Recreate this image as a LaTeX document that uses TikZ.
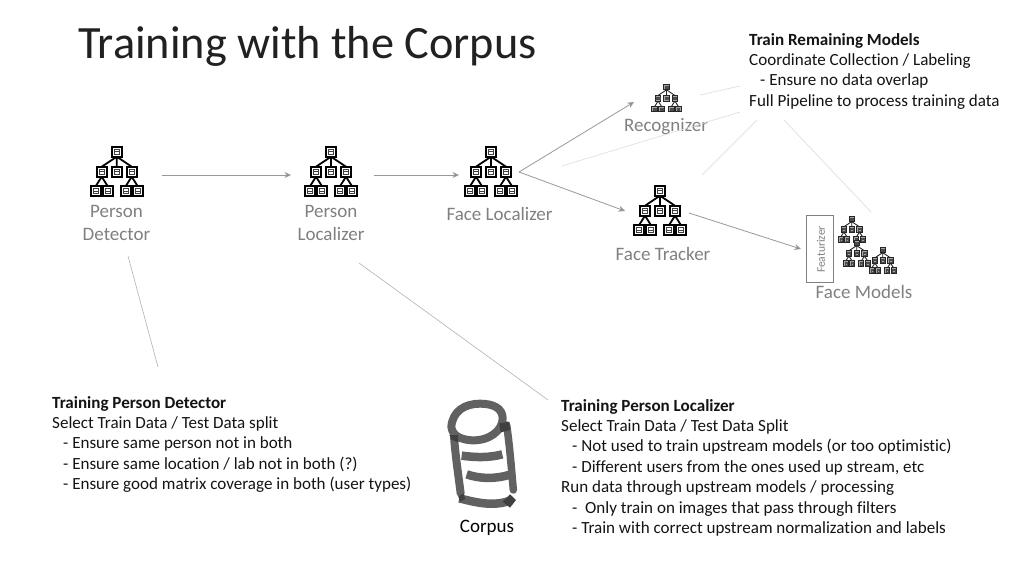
\documentclass[tikz,border=0pt]{standalone}
\usepackage{fontspec}
\setmainfont{Carlito}[Ligatures=NoCommon]
\usetikzlibrary{arrows.meta}
\definecolor{labelgray}{gray}{0.5}
\definecolor{linegray}{gray}{0.6}
\definecolor{ghost}{gray}{0.88}
\definecolor{inkgray}{gray}{0.13}
\newcommand{\bx}[2]{%
  \draw[treebox] (#1-5,#2-5) rectangle (#1+5,#2+5);
  \draw[treeinner] (#1-2.8,#2-2.4) rectangle (#1+2.8,#2+2.4) (#1-2.8,#2) -- (#1+2.8,#2);}
\newcommand{\bv}[2]{%
  \draw[treebox] (#1-5,#2-5) rectangle (#1+5,#2+5);
  \draw[treeinner] (#1-2.2,#2-2.6) rectangle (#1+2.2,#2+2.6) (#1-2.2,#2) -- (#1+2.2,#2);}
\tikzset{
  x=1pt,y=-1pt,
  treebox/.style={draw=black,fill=white,line width=2pt},
  treeinner/.style={draw=black!75,line width=0.8pt},
  treeline/.style={draw=black,line width=1.8pt},
  smalltree/.style={
    treebox/.style={draw=black!85,fill=black!35,line width=1pt},
    treeinner/.style={draw=black!70,line width=0.3pt},
    treeline/.style={draw=black!85,line width=0.9pt}},
  treeicon/.pic={
    \draw[treeline] (0,5) -- (-15,15) (0,5) -- (0,15) (0,5) -- (15,15)
      (-15,25) -- (-21,34.5) (-15,25) -- (-9,34.5) (15,25) -- (9,34.5) (15,25) -- (21,34.5);
    \bx{0}{0}\bx{-15}{20}\bx{0}{20}\bx{15}{20}
    \bv{-21}{39.5}\bv{-9}{39.5}\bv{9}{39.5}\bv{21}{39.5}
  },
  flowarrow/.style={draw=linegray,line width=0.8pt,-{Stealth[length=6.5pt,width=6pt,fill=gray]}},
  ghostline/.style={draw=ghost,line width=0.7pt},
  noteline/.style={draw=black!30,line width=0.6pt},
  grayname/.style={text=labelgray,inner sep=0pt,align=center,font=\fontsize{19}{23}\selectfont},
  bodytext/.style={text=black!92,inner sep=0pt,align=left,anchor=north west,font=\fontsize{17.05}{20.4}\selectfont},
  titletext/.style={text=inkgray,inner sep=0pt,anchor=base west,font=\fontsize{46.3}{50}\selectfont},
  corpusstroke/.style={draw=black!62,line width=6pt,line cap=round,line join=round},
  corpusdark/.style={fill=black!75,draw=none},
}
\newcommand{\ind}{\hspace*{11pt}}
\begin{document}
\begin{tikzpicture}
\useasboundingbox[fill=white] (0,0) rectangle (1024,576);
\node[titletext] (title) at (78,58) {Training with the Corpus};
\pic at (116.7,151.7) {treeicon};
\pic at (331,151.7) {treeicon};
\pic at (491,151.7) {treeicon};
\pic at (660,190.7) {treeicon};
\begin{scope}[smalltree]
\pic[scale=0.56] at (666.5,87) {treeicon};
\pic[scale=0.52] at (851.7,219) {treeicon};
\pic[scale=0.52] at (856.7,243) {treeicon};
\pic[scale=0.52] at (882.7,250) {treeicon};
\end{scope}
\node[grayname] (pd) at (116.5,222.5) {Person\\Detector};
\node[grayname] (pl) at (331,222.5) {Person\\ Localizer};
\node[grayname] (fl) at (499.5,214) {Face Localizer};
\node[grayname] (rec) at (666,127) {Recognizer};
\node[grayname] (ft) at (663,253.5) {Face Tracker};
\node[grayname] (fm) at (864,292) {Face Models};
\node[draw=black!50,line width=0.9pt,minimum width=26.6pt,minimum height=66.5pt,inner sep=0pt] (feat) at (820,249) {};
\node[text=labelgray,rotate=90,inner sep=0pt,font=\fontsize{11.5}{14}\selectfont] (featlabel) at (821,249.5) {Featurizer};
\coordinate (a1) at (162,175); \coordinate (a2) at (291,175);
\coordinate (b1) at (374,175); \coordinate (b2) at (459,175);
\coordinate (c1) at (519,172); \coordinate (c2) at (634,102);
\coordinate (d2) at (625,211);
\coordinate (e1) at (689,213); \coordinate (e2) at (801,249);
\draw[flowarrow] (a1) -- (a2);
\draw[flowarrow] (b1) -- (b2);
\draw[flowarrow] (c1) -- (c2);
\draw[flowarrow] (c1) -- (d2);
\draw[flowarrow] (e1) -- (e2);
\coordinate (n1a) at (128,256); \coordinate (n1b) at (158,367);
\coordinate (n2a) at (359,263); \coordinate (n2b) at (548,400);
\draw[noteline] (n1a) -- (n1b);
\draw[noteline] (n2a) -- (n2b);
\coordinate (g1a) at (700,95); \coordinate (g1b) at (740,86);
\coordinate (g2a) at (562,166); \coordinate (g2b) at (740,112);
\coordinate (g3a) at (702,175); \coordinate (g3b) at (757,120);
\coordinate (g4a) at (784,120); \coordinate (g4b) at (871,212);
\draw[ghostline] (g1a) -- (g1b);
\draw[ghostline] (g2a) -- (g2b);
\draw[ghostline] (g3a) -- (g3b);
\draw[ghostline] (g4a) -- (g4b);
\node[bodytext] (rem) at (749,33) {\textbf{Train Remaining Models}\\Coordinate Collection / Labeling\\\ind - Ensure no data overlap\\Full Pipeline to process training data};
\node[bodytext] (det) at (52,396) {\textbf{Training Person Detector}\\Select Train Data / Test Data split\\\ind - Ensure same person not in both\\\ind - Ensure same location / lab not in both (?)\\\ind - Ensure good matrix coverage in both (user types)};
\node[bodytext] (loc) at (561,399) {\textbf{Training Person Localizer}\\Select Train Data / Test Data Split\\\ind - Not used to train upstream models (or too optimistic)\\\ind - Different users from the ones used up stream, etc\\Run data through upstream models / processing\\\ind -~ Only train on images that pass through filters\\\ind - Train with correct upstream normalization and labels};
\begin{scope}[shift={(430,385)},x=0.3333pt,y=-0.3333pt]
\draw[corpusstroke,line width=8pt] (64,125) .. controls (68,78) and (105,56) .. (150,56)
  .. controls (190,56) and (218,70) .. (218,100) .. controls (218,135) and (180,168) .. (125,166)
  .. controls (90,164) and (66,150) .. (64,125);
\draw[corpusstroke,line width=8pt] (72,155) .. controls (76,210) and (85,270) .. (92,325);
\draw[corpusstroke,line width=7.5pt] (230,120) .. controls (240,190) and (245,260) .. (250,315);
\draw[corpusstroke,line width=8.5pt,line cap=butt] (95,212) .. controls (140,218) and (180,218) .. (217,208);
\draw[corpusstroke,line width=8.5pt,line cap=butt] (110,268) .. controls (150,282) and (195,282) .. (237,270);
\draw[corpusstroke,line width=8.5pt,line cap=butt] (88,340) .. controls (130,350) and (190,368) .. (245,345);
\fill[corpusdark] (58,150) -- (84,150) -- (85,172) -- (66,165) -- cycle;
\fill[corpusdark] (208,115) -- (238,110) -- (240,135) -- (212,142) -- cycle;
\fill[corpusdark] (218,350) -- (240,328) -- (258,345) -- (240,368) -- cycle;
\fill[corpusdark] (85,335) -- (100,325) -- (106,342) -- (90,350) -- cycle;
\end{scope}
\node[inner sep=0pt,font=\fontsize{19}{20}\selectfont] (corpus) at (487,527.5) {Corpus};
\end{tikzpicture}
\end{document}
